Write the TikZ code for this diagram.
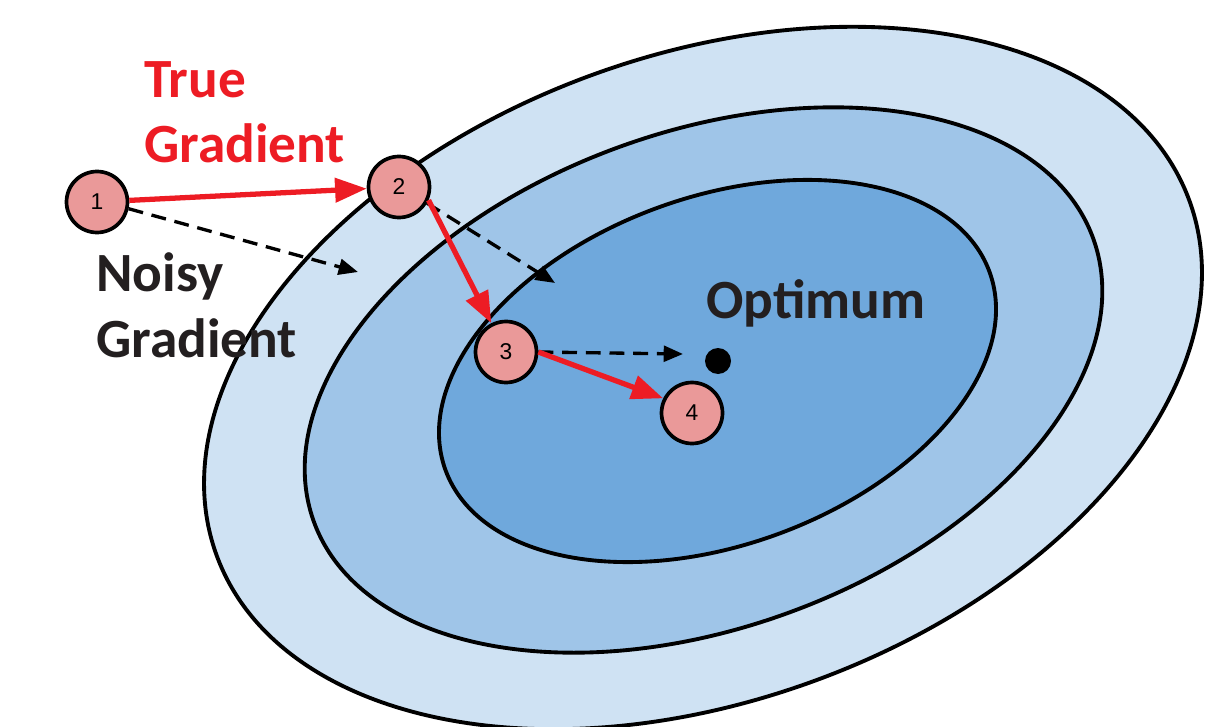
\documentclass[tikz,border=0pt]{standalone}
\usepackage{fontspec}
\setmainfont{Carlito}
\newfontfamily\numfont{Liberation Sans}
\usetikzlibrary{arrows.meta}
\definecolor{ellA}{HTML}{CFE2F3}
\definecolor{ellB}{HTML}{9FC5E8}
\definecolor{ellC}{HTML}{6FA8DC}
\definecolor{ptfill}{HTML}{EA9999}
\definecolor{tred}{HTML}{ED1C24}
\definecolor{tblack}{HTML}{231F20}
\begin{document}
\begin{tikzpicture}[x=0.02cm, y=-0.02cm,
  contourline/.style={draw=black, line width=2.2pt},
  stepnode/.style={circle, draw=black, fill=ptfill, line width=2.1pt, minimum size=1.22cm, inner sep=0pt, font=\numfont\fontsize{13}{15}\selectfont},
  truegrad/.style={draw=tred, line width=3pt, -{Triangle[length=18pt,width=13.5pt]}},
  noisygrad/.style={draw=black, line width=1.9pt, dash pattern=on 8.5pt off 5pt, -{Triangle[length=11pt,width=9pt]}},
  biglabel/.style={font=\bfseries\fontsize{31.5}{37.4}\selectfont, inner sep=0pt, align=left}
]
\useasboundingbox (0,0) rectangle (1212,726);
\clip (0,0) rectangle (1212,726);
% contours
\path[contourline, fill=ellA, rotate around={20:(703,378)}] (703,378) ellipse [x radius=517.7, y radius=322.7];
\path[contourline, fill=ellB, rotate around={20:(703.5,380)}] (703.5,380) ellipse [x radius=414.6, y radius=247.8];
\path[contourline, fill=ellC, rotate around={20:(717.5,371)}] (717.5,371) ellipse [x radius=289.5, y radius=173.9];
% optimum
\node[circle, fill=black, minimum size=0.52cm, inner sep=0pt] (opt) at (718,361) {};
\node[biglabel, text=tblack, anchor=base west] (optl) at (706,318) {Optimum};
% steps
\node[stepnode] (n1) at (97,202) {1};
\node[stepnode] (n2) at (399,187) {2};
\node[stepnode] (n3) at (506,352) {3};
\node[stepnode] (n4) at (692,413) {4};
% labels (anchor on last line baseline)
\node[biglabel, text=tred, anchor=base west] (tg) at (144,163) {True\\Gradient};
\node[biglabel, text=tblack, anchor=base west] (ng) at (96,357) {Noisy\\Gradient};
% noisy gradients
\coordinate (e1) at (358,272);
\coordinate (e2) at (555,283);
\coordinate (e3) at (683,354);
\draw[noisygrad] (n1.-12) -- (e1);
\draw[noisygrad] (n2.-30) -- (e2);
\draw[noisygrad] (n3.east) -- (e3);
% true gradients
\draw[truegrad] (n1) -- (n2);
\draw[truegrad] (n2.-24) -- (n3.117);
\draw[truegrad] (n3.east) -- (n4.153);
\end{tikzpicture}
\end{document}
